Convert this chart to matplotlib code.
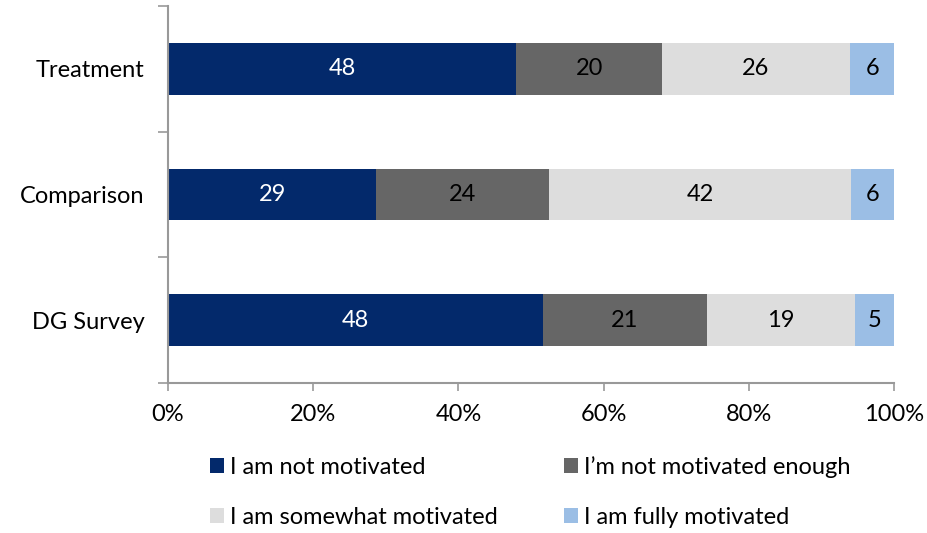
import matplotlib.pyplot as plt
import numpy as np

plt.rcParams['font.family'] = ['Lato', 'DejaVu Sans']

groups = ['Treatment', 'Comparison', 'DG Survey']
series = ['I am not motivated', "I\u2019m not motivated enough",
          'I am somewhat motivated', 'I am fully motivated']
not_motivated = [48, 29, 48]
not_enough = [20, 24, 21]
somewhat = [26, 42, 19]
fully = [6, 6, 5]
colors = ['#03296B', '#666666', '#DDDDDD', '#9BBEE5']
text_colors = ['white', 'black', 'black', 'black']

values = np.array([not_motivated, not_enough, somewhat, fully], dtype=float)
shares = values / values.sum(axis=0) * 100

fig = plt.figure(figsize=(9.27, 5.33), dpi=100)
ax = fig.add_axes([0.1812, 0.2814, 0.7832, 0.7073])

ypos = np.arange(len(groups))[::-1]
left = np.zeros(len(groups))
handles = []
for i in range(len(series)):
    bars = ax.barh(ypos, shares[i], left=left, height=0.41, color=colors[i],
                   label=series[i], edgecolor='none')
    handles.append(bars)
    for y, l, w, v in zip(ypos, left, shares[i], values[i]):
        ax.text(l + w / 2, y, f'{int(v)}', ha='center', va='center',
                color=text_colors[i], fontsize=17)
    left += shares[i]

ax.set_xlim(0, 100)
ax.set_ylim(-0.5, len(groups) - 0.5)
ax.set_xticks(np.arange(0, 101, 20))
ax.set_xticklabels([f'{t}%' for t in range(0, 101, 20)], fontsize=17)
ax.set_yticks(ypos)
ax.set_yticklabels(groups, fontsize=17)
ax.set_yticks(np.arange(-0.5, len(groups), 1), minor=True)
ax.tick_params(axis='y', which='major', length=0, pad=17)
ax.tick_params(axis='y', which='minor', length=7, color='#999999', width=1.2)
ax.tick_params(axis='x', length=6, color='#999999', width=1.2, pad=9)

for s in ['top', 'right']:
    ax.spines[s].set_visible(False)
for s in ['left', 'bottom']:
    ax.spines[s].set_color('#999999')
    ax.spines[s].set_linewidth(1.5)

# legend reads row by row in the reference
order = [0, 2, 1, 3]
fig.legend(handles=[handles[i] for i in order], labels=[series[i] for i in order],
           ncol=2, loc='center', bbox_to_anchor=(0.572, 0.077), frameon=False,
           fontsize=17, handlelength=0.6, handleheight=0.6, handletextpad=0.25,
           columnspacing=2.8, labelspacing=1.2)

fig.savefig('out.png', dpi=100)
